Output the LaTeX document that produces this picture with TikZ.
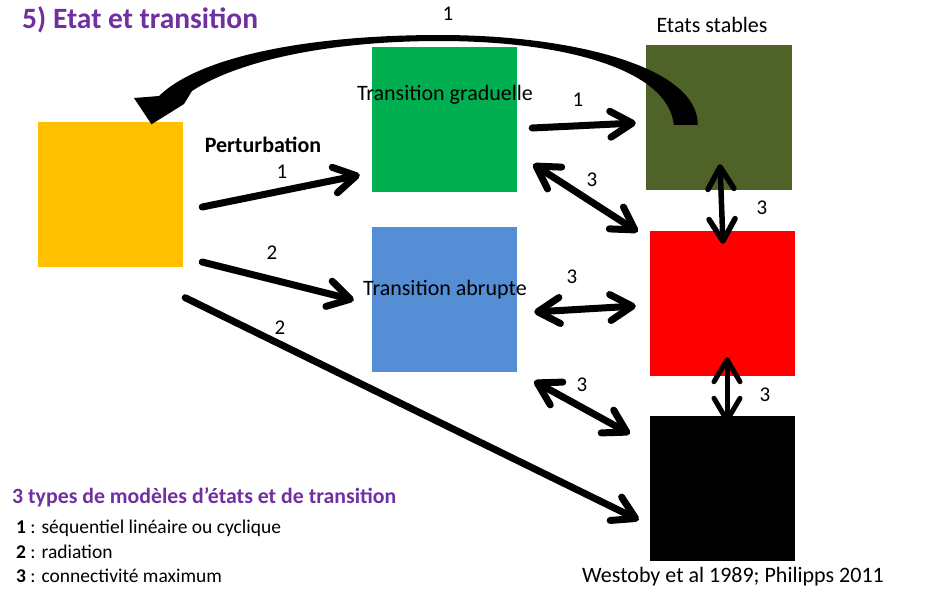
\documentclass[tikz,border=0pt]{standalone}
\usepackage{fontspec}
\setmainfont{Carlito}
\usetikzlibrary{arrows.meta,calc}

\definecolor{jaune}{HTML}{FFC000}
\definecolor{vert}{HTML}{00B050}
\definecolor{bleu}{HTML}{558ED5}
\definecolor{kaki}{HTML}{4F6228}
\definecolor{titreviolet}{HTML}{7030A0}

\tikzset{
  etat/.style={rectangle, inner sep=0pt, minimum width=145pt, minimum height=145pt},
  texte/.style={font=\fontsize{22}{26}\selectfont, inner sep=0pt},
  num/.style={font=\fontsize{21}{25}\selectfont, inner sep=0pt},
  fleche/.style={line width=7pt, line cap=round, -{Straight Barb[length=22pt,width=26pt,round]}},
  dfleche/.style={fleche, {Straight Barb[length=22pt,width=26pt,round]}-{Straight Barb[length=22pt,width=26pt,round]}},
}

\begin{document}
\begin{tikzpicture}[x=1pt,y=-1pt]
\useasboundingbox (0,0) rectangle (928,598);

% les etats
\node[etat, fill=jaune] (jaune) at (110.5,194) {};
\node[etat, fill=vert]  (grad)  at (444.5,119.5) {};
\node[etat, fill=bleu]  (abr)   at (444.5,299.5) {};
\node[etat, fill=kaki, minimum width=146pt] (kaki) at (719,117.5) {};
\node[etat, fill=red]   (rouge) at (722.5,303.5) {};
\node[etat, fill=black] (noir)  at (722.5,488.5) {};

% les textes
\node[anchor=west, inner sep=0pt, text=titreviolet, font=\fontsize{29.5}{34}\selectfont\bfseries] (titre) at (22,20) {5) Etat et transition};
\node[texte] (stables) at (712,25) {Etats stables};
\node[texte] (tgrad) at (445,95) {Transition graduelle};
\node[texte] (tabr) at (445,290) {Transition abrupte};
\node[texte, font=\fontsize{22}{26}\selectfont\bfseries] (pert) at (263,145) {Perturbation};

% fleche courbe (1)
\coordinate (depart) at ($(kaki.north west)+(40,80)$);
\coordinate (pointe) at ($(jaune.north)+(41,3)$);
\fill ($(depart)+(12,0)$) .. controls (698,66) and (570,35) .. (440,35)
  .. controls (310,35) and (200,56) .. (159,96) -- (134,98) -- (pointe)
  -- (184,104) -- (192,91) .. controls (236,62) and (325,41) .. (440,41)
  .. controls (560,41) and (668,68) .. ($(depart)+(-12,0)$) -- cycle;
\node[num] (n0) at (448,14) {1};

% fleches droites
\draw[fleche] ($(jaune.east)+(19,13)$) -- ($(grad.west)+(-12,55.5)$);
\node[num] (n1) at (282,172) {1};
\draw[fleche] ($(jaune.east)+(19,68)$) -- ($(abr.west)+(-18,0.5)$);
\node[num] (n2) at (272,253) {2};
\draw[fleche] ($(jaune.south east)+(2,31)$) -- ($(noir.west)+(-11,31.5)$);
\node[num] (n3) at (280,328) {2};
\draw[fleche] ($(grad.east)+(15,8.5)$) -- ($(kaki.west)+(-10,5.5)$);
\node[num] (n4) at (578,100) {1};

% fleches doubles
\draw[dfleche] ($(grad.south east)+(16,-28)$) -- ($(rouge.north west)+(-12,1)$);
\node[num] (n5) at (592,180) {3};
\draw[dfleche, line width=5.5pt] ($(kaki.south)+(1,-26)$) -- ($(rouge.north)+(0.5,13)$);
\node[num] (n6) at (762,208) {3};
\draw[dfleche] ($(abr.east)+(17,12.5)$) -- ($(rouge.west)+(-14,2.5)$);
\node[num] (n7) at (572,277) {3};
\draw[dfleche] ($(abr.south east)+(17,9)$) -- ($(noir.north west)+(-20,18)$);
\node[num] (n8) at (582,385) {3};
\draw[dfleche, line width=5pt] ($(rouge.south)+(4.5,-19)$) -- ($(noir.north)+(4.5,7)$);
\node[num] (n9) at (765,395) {3};

% legende
\node[anchor=west, inner sep=0pt, text=titreviolet, font=\fontsize{21.8}{26}\selectfont\bfseries] (leg) at (12,497) {3 types de modèles d’états et de transition};
\node[anchor=west, inner sep=0pt, font=\fontsize{19.5}{23}\selectfont] (leg1) at (16,528) {\textbf{1} : séquentiel linéaire ou cyclique};
\node[anchor=west, inner sep=0pt, font=\fontsize{19.5}{23}\selectfont] (leg2) at (16,552) {\textbf{2} : radiation};
\node[anchor=west, inner sep=0pt, font=\fontsize{19.5}{23}\selectfont] (leg3) at (16,576) {\textbf{3} : connectivité maximum};
\node[texte] (ref) at (733,577) {Westoby et al 1989; Philipps 2011};
\end{tikzpicture}
\end{document}
